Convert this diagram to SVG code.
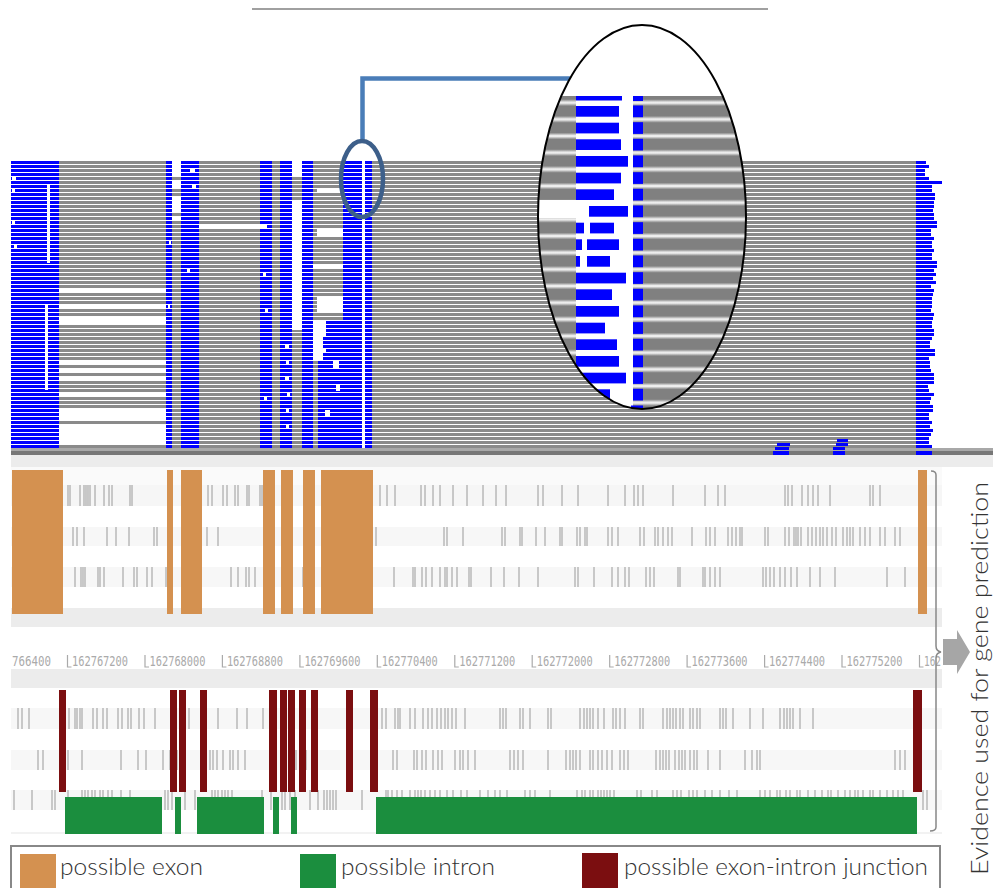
<svg xmlns="http://www.w3.org/2000/svg" width="993" height="888" viewBox="0 0 993 888">
<style>
.tk{stroke:#a9a9a9;stroke-width:1.2;fill:none}
.lg{font-family:Lato,"Noto Sans","Liberation Sans",sans-serif;font-weight:300;font-size:24px;fill:#333}
.ru{font-family:"DejaVu Sans Mono","Liberation Mono",monospace;font-size:14px;fill:#aaa}
.w{fill:#fff}
.exon{fill:#d49150}
.intron{fill:#1b8e3e}
.junc{fill:#7b0e10}
</style>
<defs>
<pattern id="gs" patternUnits="userSpaceOnUse" x="0" y="161" width="10" height="4"><rect width="10" height="3" fill="#8a8a8a"/></pattern>
<pattern id="bs" patternUnits="userSpaceOnUse" x="0" y="161" width="10" height="4"><rect width="10" height="3" fill="#0000ff"/></pattern>
<linearGradient id="mgg" x1="0" y1="0" x2="0" y2="1">
<stop offset="0" stop-color="#ffffff"/><stop offset="0.2" stop-color="#808080"/><stop offset="0.8" stop-color="#808080"/><stop offset="1" stop-color="#ffffff"/>
</linearGradient>
<pattern id="mg" patternUnits="userSpaceOnUse" x="0" y="102.67" width="20" height="16.667"><rect width="20" height="16.667" fill="url(#mgg)"/></pattern>
<clipPath id="ec"><ellipse cx="642" cy="217" rx="104" ry="192"/></clipPath>
</defs>
<rect width="993" height="888" fill="#fff"/>
<line x1="252" y1="9" x2="768" y2="9" stroke="#a0a0a0" stroke-width="2"/>

<g id="reads">
<rect x="11" y="161" width="905" height="287" fill="url(#gs)"/>
<g fill="url(#bs)">
<rect x="11" y="161" width="48" height="291"/>
<rect x="166" y="161" width="6" height="291"/>
<rect x="181" y="161" width="18" height="291"/>
<rect x="260" y="161" width="12" height="291"/>
<rect x="280" y="161" width="12" height="291"/>
<rect x="302" y="161" width="11" height="291"/>
<rect x="318" y="321" width="25" height="131"/>
<rect x="343" y="161" width="19" height="291"/>
<rect x="365" y="161" width="7" height="291"/>
</g>
<g class="w">
<rect x="59" y="289" width="107" height="3"/><rect x="59" y="305" width="107" height="3"/><rect x="59" y="317" width="107" height="7"/>
<rect x="59" y="361" width="107" height="3"/><rect x="59" y="369" width="107" height="3"/><rect x="59" y="377" width="107" height="3"/>
<rect x="59" y="393" width="107" height="3"/><rect x="59" y="409" width="107" height="11"/><rect x="59" y="425" width="107" height="19"/>
<rect x="172" y="161" width="9" height="15"/><rect x="172" y="181" width="9" height="7"/><rect x="172" y="197" width="9" height="15"/><rect x="172" y="217" width="9" height="3"/>
<rect x="199" y="225" width="68" height="3"/>
<rect x="292" y="161" width="10" height="16"/><rect x="292" y="201" width="10" height="129"/>
<rect x="317" y="189" width="26" height="3"/><rect x="317" y="229" width="26" height="7"/><rect x="313" y="265" width="30" height="3"/><rect x="317" y="297" width="26" height="15"/>
<rect x="313" y="321" width="13" height="16"/><rect x="313" y="337" width="10" height="24"/>
<rect x="333" y="361" width="6" height="7"/><rect x="336" y="385" width="4" height="6"/><rect x="325" y="410" width="5" height="7"/><rect x="320" y="349" width="6" height="3"/>
<rect x="362" y="161" width="3" height="291"/>
<rect x="47" y="185" width="3" height="78"/><rect x="45" y="305" width="3" height="85"/>
<rect x="12" y="177" width="4" height="3"/><rect x="12" y="189" width="3" height="3"/><rect x="12" y="221" width="3" height="3"/><rect x="14" y="245" width="3" height="3"/>
<rect x="285" y="345" width="4" height="3"/><rect x="286" y="361" width="3" height="3"/><rect x="285" y="377" width="4" height="3"/><rect x="287" y="393" width="3" height="3"/><rect x="286" y="409" width="3" height="3"/><rect x="286" y="425" width="3" height="3"/>
<rect x="263" y="273" width="3" height="3"/><rect x="265" y="309" width="3" height="3"/><rect x="264" y="397" width="3" height="3"/>
<rect x="169" y="241" width="2" height="3"/><rect x="168" y="305" width="2" height="3"/>
<rect x="190" y="169" width="5" height="3"/><rect x="192" y="185" width="4" height="3"/><rect x="187" y="269" width="3" height="3"/>
</g>
<path fill="#0000ff" d="M916 161h10v3h-10zm0 4h13v3h-13zm0 4h9v3h-9zm0 4h9v3h-9zm0 4h13v3h-13zm0 4h26v3h-26zm0 4h16v3h-16zm0 4h16v3h-16zm0 4h19v3h-19zm0 4h19v3h-19zm0 4h18v3h-18zm0 4h18v3h-18zm0 4h17v3h-17zm0 4h18v3h-18zm0 4h18v3h-18zm0 4h21v3h-21zm0 4h21v3h-21zm0 4h15v3h-15zm0 4h15v3h-15zm0 4h18v3h-18zm0 4h16v3h-16zm0 4h16v3h-16zm0 4h18v3h-18zm0 4h16v3h-16zm0 4h16v3h-16zm0 4h21v3h-21zm0 4h21v3h-21zm0 4h18v3h-18zm0 4h20v3h-20zm0 4h17v3h-17zm0 4h20v3h-20zm0 4h15v3h-15zm0 4h18v3h-18zm0 4h17v3h-17zm0 4h16v3h-16zm0 4h16v3h-16zm0 4h16v3h-16zm0 4h15v3h-15zm0 4h18v3h-18zm0 4h17v3h-17zm0 4h16v3h-16zm0 4h16v3h-16zm0 4h18v3h-18zm0 4h18v3h-18zm0 4h16v3h-16zm0 4h14v3h-14zm0 4h14v3h-14zm0 4h19v3h-19zm0 4h19v3h-19zm0 4h13v3h-13zm0 4h14v3h-14zm0 4h14v3h-14zm0 4h15v3h-15zm0 4h18v3h-18zm0 4h18v3h-18zm0 4h18v3h-18zm0 4h12v3h-12zm0 4h13v3h-13zm0 4h18v3h-18zm0 4h15v3h-15zm0 4h14v3h-14zm0 4h17v3h-17zm0 4h17v3h-17zm0 4h13v3h-13zm0 4h13v3h-13zm0 4h16v3h-16zm0 4h14v3h-14zm0 4h17v3h-17zm0 4h15v3h-15zm0 4h13v3h-13zm0 4h13v3h-13zm0 4h16v3h-16z"/>
<rect x="11" y="448" width="982" height="3" fill="#a8a8a8"/>
<rect x="11" y="451" width="982" height="4" fill="#777"/>
<g fill="#0000ff">
<rect x="916" y="451" width="16" height="4"/>
<rect x="777" y="443" width="13" height="3"/><rect x="775" y="447" width="14" height="3"/><rect x="773" y="451" width="16" height="4"/>
<rect x="837" y="439" width="11" height="3"/><rect x="836" y="443" width="12" height="3"/><rect x="833" y="447" width="12" height="3"/><rect x="833" y="451" width="12" height="4"/>
</g>
</g>

<g id="connectors">
<polyline points="570,78.5 362.5,78.5 362.5,141" fill="none" stroke="#4a7db8" stroke-width="4.5"/>
</g>

<g id="small-ellipse">
<ellipse cx="362" cy="179" rx="21" ry="38" fill="none" stroke="#3d5f8a" stroke-width="4.5"/>
</g>

<g id="magnified">
<g clip-path="url(#ec)">
<rect x="530" y="20" width="230" height="400" fill="#fff"/>
<rect x="530" y="96" width="230" height="320" fill="url(#mg)"/>
<rect x="576" y="96" width="57" height="320" fill="#fff"/>
<rect x="530" y="200" width="59" height="18" fill="#fff"/>
<g fill="#0000ff">
<rect x="576" y="96" width="46" height="4.5"/>
<rect x="576" y="106" width="43" height="10.7"/>
<rect x="576" y="122.7" width="43" height="10.7"/>
<rect x="576" y="139.3" width="45" height="10.7"/>
<rect x="576" y="156" width="52" height="10.7"/>
<rect x="576" y="172.7" width="45" height="10.7"/>
<rect x="576" y="189.3" width="38" height="10.7"/>
<rect x="589" y="206" width="39" height="10.7"/>
<rect x="576" y="222.7" width="8" height="10.7"/><rect x="590" y="222.7" width="24" height="10.7"/>
<rect x="576" y="239.3" width="6" height="10.7"/><rect x="587" y="239.3" width="32" height="10.7"/>
<rect x="576" y="256" width="4" height="10.7"/><rect x="587" y="256" width="23" height="10.7"/>
<rect x="576" y="272.7" width="50" height="10.7"/>
<rect x="576" y="289.3" width="36" height="10.7"/>
<rect x="576" y="306" width="43" height="10.7"/>
<rect x="576" y="322.7" width="29" height="10.7"/>
<rect x="576" y="339.3" width="41" height="10.7"/>
<rect x="576" y="356" width="43" height="10.7"/>
<rect x="576" y="372.7" width="50" height="10.7"/>
<rect x="576" y="389.3" width="34" height="10.7"/>
<rect x="576" y="406" width="51" height="10.7"/>
<rect x="633" y="96" width="10" height="5"/>
<rect x="633" y="105.5" width="10" height="11.7"/>
<rect x="633" y="122.2" width="10" height="11.7"/>
<rect x="633" y="138.8" width="10" height="11.7"/>
<rect x="633" y="155.5" width="10" height="11.7"/>
<rect x="633" y="172.2" width="10" height="11.7"/>
<rect x="633" y="188.8" width="10" height="11.7"/>
<rect x="633" y="205.5" width="10" height="11.7"/>
<rect x="633" y="222.2" width="10" height="11.7"/>
<rect x="633" y="238.8" width="10" height="11.7"/>
<rect x="633" y="255.5" width="10" height="11.7"/>
<rect x="633" y="272.2" width="10" height="11.7"/>
<rect x="633" y="288.8" width="10" height="11.7"/>
<rect x="633" y="305.5" width="10" height="11.7"/>
<rect x="633" y="322.2" width="10" height="11.7"/>
<rect x="633" y="338.8" width="10" height="11.7"/>
<rect x="633" y="355.5" width="10" height="11.7"/>
<rect x="633" y="372.2" width="10" height="11.7"/>
<rect x="633" y="388.8" width="10" height="11.7"/>
<rect x="631" y="405.5" width="12" height="11.7"/>
</g>
</g>
<ellipse cx="642" cy="217" rx="104" ry="192" fill="none" stroke="#000" stroke-width="2"/>
</g>

<g id="exon-track">
<rect x="11" y="455" width="982" height="12" fill="#ececec"/>
<rect x="11" y="467" width="931" height="18" fill="#fafafa"/>
<rect x="11" y="485" width="931" height="21" fill="#f6f6f6"/>
<rect x="11" y="527" width="931" height="19" fill="#f7f7f7"/>
<rect x="11" y="567" width="931" height="20" fill="#f7f7f7"/>
<rect x="11" y="608" width="931" height="19" fill="#ececec"/>
<path class="tk" d="M68 485v21M70 485v21M80 485v21M84 485v21M86 485v21M88 485v21M90 485v21M95 485v21M104 485v21M109 485v21M112 485v21M130 485v21M132 485v21M208 485v21M212 485v21M223 485v21M227 485v21M235 485v21M238 485v21M247 485v21M249 485v21M260 485v21M262 485v21M380 485v21M387 485v21M395 485v21M421 485v21M425 485v21M433 485v21M440 485v21M453 485v21M467 485v21M483 485v21M496 485v21M506 485v21M538 485v21M543 485v21M562 485v21M578 485v21M608 485v21M625 485v21M634 485v21M638 485v21M643 485v21M673 485v21M705 485v21M718 485v21M725 485v21M785 485v21M788 485v21M792 485v21M802 485v21M808 485v21M813 485v21M818 485v21M830 485v21M870 485v21M873 485v21M880 485v21"/>
<path class="tk" d="M73 527v19M77 527v19M84 527v19M107 527v19M116 527v19M129 527v19M154 527v19M157 527v19M207 527v19M218 527v19M376 527v19M444 527v19M447 527v19M463 527v19M502 527v19M505 527v19M520 527v19M522 527v19M536 527v19M545 527v19M560 527v19M562 527v19M577 527v19M580 527v19M585 527v19M587 527v19M608 527v19M612 527v19M618 527v19M640 527v19M644 527v19M655 527v19M658 527v19M663 527v19M668 527v19M672 527v19M692 527v19M706 527v19M710 527v19M715 527v19M728 527v19M732 527v19M736 527v19M740 527v19M742 527v19M765 527v19M768 527v19M785 527v19M789 527v19M794 527v19M796 527v19M798 527v19M801 527v19M808 527v19M812 527v19M816 527v19M820 527v19M823 527v19M827 527v19M832 527v19M836 527v19M843 527v19M847 527v19M850 527v19M853 527v19M860 527v19M865 527v19M870 527v19M880 527v19M885 527v19M895 527v19M900 527v19"/>
<path class="tk" d="M75 567v20M81 567v20M83 567v20M85 567v20M98 567v20M100 567v20M104 567v20M123 567v20M134 567v20M137 567v20M147 567v20M152 567v20M166 567v20M231 567v20M238 567v20M246 567v20M249 567v20M255 567v20M303 567v20M394 567v20M413 567v20M415 567v20M422 567v20M426 567v20M432 567v20M440 567v20M445 567v20M447 567v20M452 567v20M457 567v20M469 567v20M471 567v20M491 567v20M504 567v20M519 567v20M538 567v20M575 567v20M578 567v20M594 567v20M612 567v20M618 567v20M625 567v20M629 567v20M646 567v20M650 567v20M654 567v20M678 567v20M680 567v20M703 567v20M705 567v20M710 567v20M715 567v20M720 567v20M763 567v20M766 567v20M770 567v20M774 567v20M780 567v20M785 567v20M791 567v20M797 567v20M810 567v20M820 567v20M835 567v20M887 567v20M905 567v20"/>
<rect class="exon" x="12" y="470" width="51" height="144"/>
<rect class="exon" x="167" y="470" width="6" height="144"/>
<rect class="exon" x="181" y="470" width="21" height="144"/>
<rect class="exon" x="263" y="470" width="12" height="144"/>
<rect class="exon" x="281" y="470" width="12" height="144"/>
<rect class="exon" x="303" y="470" width="12" height="144"/>
<rect class="exon" x="321" y="470" width="52" height="144"/>
<rect class="exon" x="918" y="470" width="9" height="144"/>
</g>

<g id="ruler">
<path d="M67.5 655v12h4M145 655v12h4M222.4 655v12h4M299.9 655v12h4M377.3 655v12h4M454.8 655v12h4M532.2 655v12h4M609.7 655v12h4M687.1 655v12h4M764.6 655v12h4M842 655v12h4M919.5 655v12h4" fill="none" stroke="#aaa" stroke-width="1.2"/>
<text class="ru" x="12" y="666" textLength="39" lengthAdjust="spacingAndGlyphs">766400</text>
<text class="ru" x="72" y="666" textLength="56" lengthAdjust="spacingAndGlyphs">162767200</text>
<text class="ru" x="149.5" y="666" textLength="56" lengthAdjust="spacingAndGlyphs">162768000</text>
<text class="ru" x="226.9" y="666" textLength="56" lengthAdjust="spacingAndGlyphs">162768800</text>
<text class="ru" x="304.4" y="666" textLength="56" lengthAdjust="spacingAndGlyphs">162769600</text>
<text class="ru" x="381.8" y="666" textLength="56" lengthAdjust="spacingAndGlyphs">162770400</text>
<text class="ru" x="459.3" y="666" textLength="56" lengthAdjust="spacingAndGlyphs">162771200</text>
<text class="ru" x="536.7" y="666" textLength="56" lengthAdjust="spacingAndGlyphs">162772000</text>
<text class="ru" x="614.2" y="666" textLength="56" lengthAdjust="spacingAndGlyphs">162772800</text>
<text class="ru" x="691.6" y="666" textLength="56" lengthAdjust="spacingAndGlyphs">162773600</text>
<text class="ru" x="769.1" y="666" textLength="56" lengthAdjust="spacingAndGlyphs">162774400</text>
<text class="ru" x="846.5" y="666" textLength="56" lengthAdjust="spacingAndGlyphs">162775200</text>
<text class="ru" x="924" y="666" textLength="17" lengthAdjust="spacingAndGlyphs">162</text>
</g>

<g id="junction-track">
<rect x="11" y="669" width="931" height="19" fill="#ececec"/>
<rect x="11" y="708" width="931" height="21" fill="#f7f7f7"/>
<rect x="11" y="750" width="931" height="20" fill="#f7f7f7"/>
<rect x="11" y="790" width="931" height="20" fill="#f7f7f7"/>
<rect x="11" y="832" width="931" height="2" fill="#f2f2f2"/>
<path class="tk" d="M18 708v21M22 708v21M29 708v21M69 708v21M75 708v21M77 708v21M80 708v21M82 708v21M93 708v21M97 708v21M103 708v21M107 708v21M118 708v21M122 708v21M128 708v21M131 708v21M139 708v21M144 708v21M155 708v21M189 708v21M218 708v21M237 708v21M247 708v21M263 708v21M382 708v21M386 708v21M395 708v21M398 708v21M400 708v21M410 708v21M415 708v21M423 708v21M428 708v21M432 708v21M437 708v21M441 708v21M445 708v21M448 708v21M452 708v21M456 708v21M465 708v21M500 708v21M503 708v21M506 708v21M520 708v21M523 708v21M530 708v21M548 708v21M551 708v21M580 708v21M584 708v21M587 708v21M590 708v21M593 708v21M598 708v21M604 708v21M613 708v21M616 708v21M620 708v21M625 708v21M640 708v21M643 708v21M663 708v21M667 708v21M670 708v21M673 708v21M676 708v21M680 708v21M683 708v21M690 708v21M693 708v21M697 708v21M700 708v21M720 708v21M723 708v21M726 708v21M733 708v21M750 708v21M763 708v21M780 708v21M784 708v21M787 708v21M790 708v21M793 708v21M800 708v21M813 708v21"/>
<path class="tk" d="M38 750v20M43 750v20M68 750v20M82 750v20M121 750v20M138 750v20M146 750v20M163 750v20M170 750v20M177 750v20M210 750v20M213 750v20M217 750v20M223 750v20M230 750v20M233 750v20M238 750v20M245 750v20M296 750v20M306 750v20M393 750v20M397 750v20M414 750v20M417 750v20M422 750v20M426 750v20M433 750v20M438 750v20M442 750v20M455 750v20M460 750v20M463 750v20M468 750v20M475 750v20M510 750v20M514 750v20M518 750v20M523 750v20M548 750v20M566 750v20M570 750v20M573 750v20M576 750v20M580 750v20M590 750v20M593 750v20M598 750v20M602 750v20M607 750v20M612 750v20M620 750v20M624 750v20M628 750v20M656 750v20M660 750v20M663 750v20M666 750v20M669 750v20M675 750v20M679 750v20M682 750v20M685 750v20M690 750v20M694 750v20M697 750v20M708 750v20M720 750v20M745 750v20M752 750v20M757 750v20M760 750v20M895 750v20M900 750v20M905 750v20"/>
<path class="tk" d="M14 790v20M32 790v20M52 790v20M55 790v20M68 790v20M82 790v20M85 790v20M88 790v20M92 790v20M95 790v20M100 790v20M103 790v20M108 790v20M112 790v20M121 790v20M130 790v20M165 790v20M168 790v20M172 790v20M185 790v20M195 790v20M212 790v20M215 790v20M218 790v20M222 790v20M225 790v20M228 790v20M232 790v20M262 790v20M271 790v20M282 790v20M285 790v20M290 790v20M295 790v20M310 790v20M318 790v20M324 790v20M327 790v20M330 790v20M333 790v20M336 790v20M362 790v20M386 790v20M388 790v20M392 790v20M397 790v20M402 790v20M410 790v20M415 790v20M418 790v20M421 790v20M425 790v20M430 790v20M435 790v20M440 790v20M447 790v20M453 790v20M461 790v20M467 790v20M480 790v20M488 790v20M495 790v20M500 790v20M507 790v20M525 790v20M530 790v20M535 790v20M550 790v20M577 790v20M582 790v20M585 790v20M590 790v20M593 790v20M598 790v20M601 790v20M604 790v20M607 790v20M610 790v20M614 790v20M637 790v20M641 790v20M652 790v20M657 790v20M673 790v20M677 790v20M681 790v20M689 790v20M693 790v20M697 790v20M705 790v20M712 790v20M720 790v20M729 790v20M737 790v20M760 790v20M765 790v20M770 790v20M777 790v20M780 790v20M786 790v20M790 790v20M797 790v20M800 790v20M808 790v20M815 790v20M822 790v20M828 790v20M831 790v20M838 790v20M845 790v20M850 790v20M855 790v20M858 790v20M863 790v20M870 790v20M873 790v20M880 790v20M887 790v20M893 790v20M898 790v20M903 790v20M923 790v20M927 790v20"/>
<g class="junc">
<rect x="59" y="690" width="7" height="102"/>
<rect x="170" y="690" width="7" height="102"/>
<rect x="179" y="690" width="7" height="102"/>
<rect x="200" y="690" width="7" height="102"/>
<rect x="269" y="690" width="8" height="102"/>
<rect x="280" y="690" width="7" height="102"/>
<rect x="288" y="690" width="7" height="102"/>
<rect x="299" y="690" width="7" height="102"/>
<rect x="311" y="690" width="7" height="102"/>
<rect x="346" y="690" width="7" height="102"/>
<rect x="370" y="690" width="8" height="102"/>
<rect x="913" y="690" width="9" height="102"/>
</g>
<g class="intron">
<rect x="65" y="797" width="97" height="37"/>
<rect x="175" y="797" width="6" height="37"/>
<rect x="197" y="797" width="67" height="37"/>
<rect x="273" y="797" width="6" height="37"/>
<rect x="291" y="797" width="6" height="37"/>
<rect x="376" y="797" width="541" height="37"/>
</g>
</g>

<g id="bracket">
<path d="M931 471q5 0 5 4v171q0 5 5 6q-5 1-5 6v169q0 4-6 4" fill="none" stroke="#888" stroke-width="1.5"/>
</g>
<g id="arrow">
<polygon points="943,639 957,639 957,630 970,652 957,674 957,665 943,665" fill="#a6a6a6"/>
</g>
<text class="lg" transform="translate(988,875) rotate(-90)" textLength="393" lengthAdjust="spacingAndGlyphs">Evidence used for gene prediction</text>

<g id="legend">
<rect x="11" y="846" width="929" height="50" fill="none" stroke="#888" stroke-width="2"/>
<rect class="exon" x="20" y="854" width="36" height="34"/>
<text class="lg" x="60" y="875" textLength="143" lengthAdjust="spacingAndGlyphs">possible exon</text>
<rect class="intron" x="300" y="854" width="36" height="34"/>
<text class="lg" x="341" y="875" textLength="154" lengthAdjust="spacingAndGlyphs">possible intron</text>
<rect class="junc" x="582" y="853" width="36" height="35"/>
<text class="lg" x="624" y="875" textLength="304" lengthAdjust="spacingAndGlyphs">possible exon-intron junction</text>
</g>
</svg>
